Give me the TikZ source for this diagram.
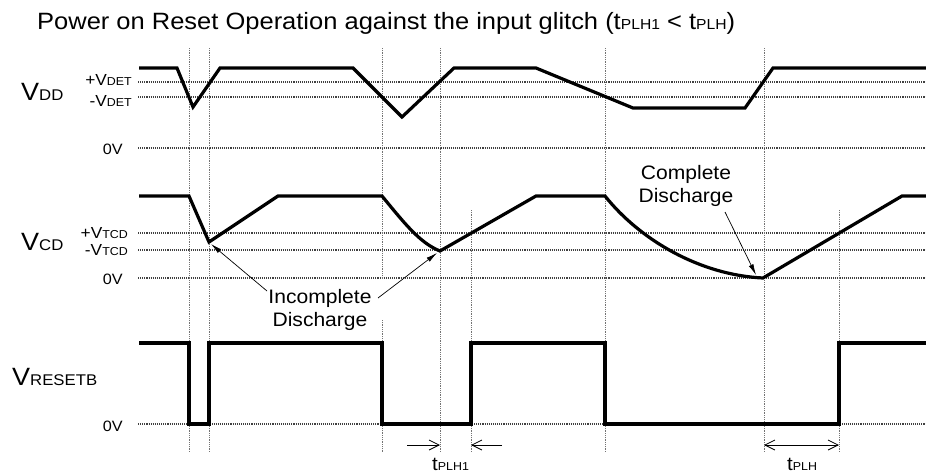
\documentclass[tikz,border=0pt]{standalone}
\usepackage{fontspec}
\setmainfont[FakeStretch=1.08]{Liberation Sans}
\usetikzlibrary{arrows.meta}
\newcommand{\fs}[1]{\fontsize{#1}{#1}\selectfont}
\begin{document}
\begin{tikzpicture}[x=1pt,y=-1pt,
  wave/.style={line width=3.2pt, line join=miter},
  hgrid/.style={densely dotted, line width=1.1pt, black!75},
  vgrid/.style={densely dotted, line width=0.8pt, black!55},
  lbl/.style={inner sep=0pt, anchor=base east},
  big/.style={inner sep=0pt, anchor=base west},
  note/.style={inner sep=0pt, anchor=base, font=\fs{19.5}},
  pointer/.style={line width=0.7pt, -{Latex[length=11pt,width=5pt]}},
  span/.style={line width=0.8pt, -{Straight Barb[length=10pt,width=10pt]}},
  dspan/.style={line width=0.8pt, {Straight Barb[length=10pt,width=10pt]}-{Straight Barb[length=10pt,width=10pt]}},
]
\useasboundingbox (0,0) rectangle (926,474);

% title
\node[big] (title) at (37,29) {\fs{23.6}Power on Reset Operation against the input glitch (t\fs{14.5}PLH1\fs{23.6} < t\fs{14.5}PLH\fs{23.6})};

% horizontal reference lines
\foreach \y in {82,97,148,233,250,278,424}
  \draw[hgrid] (138,\y) -- (926,\y);

% vertical reference lines
\foreach \x in {189,209,440,605,764}
  \draw[vgrid] (\x,48) -- (\x,452);
\draw[vgrid] (382,48) -- (382,279);
\draw[vgrid] (382,320) -- (382,452);
\foreach \x in {471,839}
  \draw[vgrid] (\x,210) -- (\x,452);

% signal names
\node[big] (vdd) at (21,100) {\fs{25}V\fs{15.5}DD};
\node[big] (vcd) at (21,250) {\fs{25}V\fs{15.5}CD};
\node[big] (vrst) at (12,385) {\fs{25}V\fs{15.5}RESETB};

% level labels
\node[lbl] (pdet) at (132,85) {\fs{16}+V\fs{11.5}DET};
\node[lbl] (mdet) at (132,106) {\fs{16}-V\fs{11.5}DET};
\node[lbl] (zdd) at (123,154) {\fs{15}0V};
\node[lbl] (ptcd) at (128,238) {\fs{16}+V\fs{11.5}TCD};
\node[lbl] (mtcd) at (128,255) {\fs{16}-V\fs{11.5}TCD};
\node[lbl] (zcd) at (123,284) {\fs{15}0V};
\node[lbl] (zrst) at (123,431) {\fs{15}0V};

% waveforms
\draw[wave] (139,68) -- (177,68) -- (193,107) -- (220,68) -- (353,68) -- (402,117)
  -- (454,68) -- (536,68) -- (633,108) -- (745,108) -- (773,68) -- (926,68);
\draw[wave] (139,196) -- (189,196) -- (209,242) -- (278,196) -- (382,196)
  .. controls (405,224) and (420,243) .. (440,251) -- (536,196) -- (605,196)
  .. controls (640,240) and (700,275) .. (763,278) -- (902,196) -- (926,196);
\draw[wave] (139,343) -- (189,343) -- (189,424) -- (209,424) -- (209,343) -- (382,343)
  -- (382,424) -- (471,424) -- (471,343) -- (605,343) -- (605,424) -- (839,424)
  -- (839,343) -- (926,343);

% annotations
\node[note] (inc1) at (320,303) {Incomplete};
\node[note] (inc2) at (320,326) {Discharge};
\node[note] (cmp1) at (686,179) {Complete};
\node[note] (cmp2) at (686,202) {Discharge};
\coordinate (incL) at (267,291);
\coordinate (incR) at (378,298);
\coordinate (dip1) at (211,244);
\coordinate (dip2) at (437,253);
\coordinate (cmpS) at (725,212);
\coordinate (dip3) at (756,275);
\draw[pointer] (incL) -- (dip1);
\draw[pointer] (incR) -- (dip2);
\draw[pointer] (cmpS) -- (dip3);

% timing
\coordinate (a1s) at (407,445);
\coordinate (a1e) at (440,445);
\coordinate (a2s) at (502,445);
\coordinate (a2e) at (471,445);
\coordinate (b1) at (764,445);
\coordinate (b2) at (839,445);
\draw[span] (a1s) -- (a1e);
\draw[span] (a2s) -- (a2e);
\draw[dspan] (b1) -- (b2);
\node[big] (tplh1) at (432,470) {\fs{19}t\fs{11.5}PLH1};
\node[big] (tplh) at (787,470) {\fs{19}t\fs{11.5}PLH};
\end{tikzpicture}
\end{document}
